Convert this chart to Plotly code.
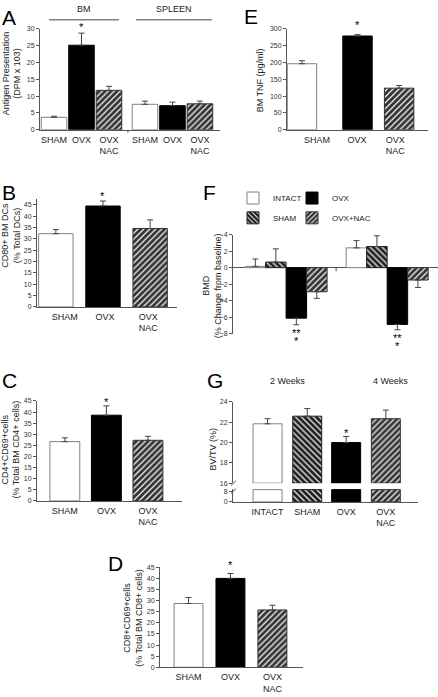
import plotly.graph_objects as go

W, H = 438, 697
FONT = "Liberation Sans, Arial, sans-serif"

# ---------------- data ----------------
A_categories = ["SHAM", "OVX", "OVX<br>NAC"]
A_groups = ["BM", "SPLEEN"]
A_bm = [3.7, 25.1, 11.7]
A_bm_err = [0.3, 3.6, 1.2]
A_spleen = [7.55, 7.15, 7.7]
A_spleen_err = [0.95, 1.05, 0.8]

E_categories = ["SHAM", "OVX", "OVX<br>NAC"]
E_values = [196, 278.5, 123.5]
E_err = [9, 4, 8]

B_categories = ["SHAM", "OVX", "OVX<br>NAC"]
B_values = [32.3, 44.5, 34.6]
B_err = [1.8, 2.2, 3.8]

C_categories = ["SHAM", "OVX", "OVX<br>NAC"]
C_values = [26.7, 38.6, 27.3]
C_err = [1.7, 4.2, 1.8]

D_categories = ["SHAM", "OVX", "OVX<br>NAC"]
D_values = [28.7, 40.0, 25.8]
D_err = [2.7, 2.2, 2.1]

F_periods = ["2 Weeks", "4 Weeks"]
F_intact = [0.15, 2.4]
F_intact_err = [0.9, 0.88]
F_sham = [0.68, 2.56]
F_sham_err = [1.6, 1.3]
F_ovx = [-6.12, -6.88]
F_ovx_err = [0.8, 0.65]
F_nac = [-2.92, -1.5]
F_nac_err = [0.8, 0.9]

G_categories = ["INTACT", "SHAM", "OVX", "OVX<br>NAC"]
G_values = [21.85, 22.6, 20.0, 22.35]
G_err = [0.5, 0.75, 0.6, 0.85]

# ---------------- styles ----------------
AX = "#555555"
TXT = "#222222"


def px(x):
    return x / W


def py(y):
    return 1 - y / H


STYLES = {
    "white": dict(color="white", line=dict(color="#808080", width=1)),
    "black": dict(color="black", line=dict(color="black", width=1)),
    "nac": dict(color="#333333", line=dict(color="#333333", width=1),
                pattern=dict(shape="/", bgcolor="#333333", fgcolor="#f4f4f4",
                             fillmode="replace", size=4.2, solidity=0.3)),
    "sham": dict(color="#1c1c1c", line=dict(color="#222222", width=1),
                 pattern=dict(shape="\\", bgcolor="#1c1c1c", fgcolor="#f4f4f4",
                              fillmode="replace", size=4.2, solidity=0.3)),
}


def err(vals, errs, color="#444444"):
    up = [e if v >= 0 else 0 for v, e in zip(vals, errs)]
    dn = [e if v < 0 else 0 for v, e in zip(vals, errs)]
    return dict(type="data", symmetric=False, array=up, arrayminus=dn,
                color=color, thickness=1, width=3)


fig = go.Figure()


def add_bars(xs, ys, errs, kinds, width, xid, yid, base=None, shown=None):
    """One trace per fill style so each pattern keeps its own colours."""
    for kind in dict.fromkeys(kinds):
        idx = [i for i, k in enumerate(kinds) if k == kind]
        yv = [ys[i] for i in idx]
        kw = {}
        if errs is not None:
            real = [(ys[i] + (base or 0)) for i in idx]
            kw["error_y"] = err(real, [errs[i] for i in idx])
        if base is not None:
            kw["base"] = base
        fig.add_trace(go.Bar(x=[xs[i] for i in idx], y=yv, width=width, xaxis=xid, yaxis=yid,
                             showlegend=False, marker=STYLES[kind], **kw))


layout = dict(
    width=W, height=H, margin=dict(l=0, r=0, t=0, b=0),
    paper_bgcolor="white", plot_bgcolor="rgba(0,0,0,0)",
    font=dict(family=FONT, color=TXT, size=9),
    barmode="overlay", showlegend=True,
)
annotations = []
shapes = []


def add_axes(n, xdom, ydom, xrange, yrange, ytickvals, tickvals=None, ticktext=None,
             xline=True, standoff=1):
    xs = "xaxis" if n == 1 else f"xaxis{n}"
    ys = "yaxis" if n == 1 else f"yaxis{n}"
    yid = "y" if n == 1 else f"y{n}"
    xid = "x" if n == 1 else f"x{n}"
    layout[xs] = dict(
        domain=[px(xdom[0]), px(xdom[1])], range=xrange, anchor=yid,
        showline=xline, linecolor=AX, linewidth=1, showgrid=False, zeroline=False,
        ticks="", tickvals=tickvals if tickvals is not None else [],
        ticktext=ticktext if ticktext is not None else [],
        tickfont=dict(size=9, color=TXT), ticklabelstandoff=standoff, fixedrange=True,
    )
    layout[ys] = dict(
        domain=[py(ydom[1]), py(ydom[0])], range=yrange, anchor=xid,
        showline=True, linecolor=AX, linewidth=1, showgrid=False, zeroline=False,
        ticks="outside", ticklen=3, tickwidth=1, tickcolor=AX,
        tickvals=ytickvals, tickfont=dict(size=7, color="#333333"), fixedrange=True,
    )
    return xid, yid


def ytitle(x, y, text):
    annotations.append(dict(x=px(x), y=py(y), xref="paper", yref="paper", text=text,
                            textangle=-90, showarrow=False, font=dict(size=9, color=TXT),
                            xanchor="center", yanchor="middle"))


def letter(x, y, t):
    annotations.append(dict(x=px(x), y=py(y), xref="paper", yref="paper", text=t,
                            showarrow=False, font=dict(size=21, color="black"),
                            xanchor="center", yanchor="middle"))


def star(xid, yid, x, y, shift, text="*"):
    annotations.append(dict(x=x, y=y, xref=xid, yref=yid, text=text, showarrow=False,
                            font=dict(size=11, color="black"), xanchor="center",
                            yanchor="middle", yshift=shift))


TRIO = ["white", "black", "nac"]

# ---------------- Panel A ----------------
a_gap = 3.31
a_pos = [0, 1, 2] + [a_gap + i for i in range(3)]
xid, yid = add_axes(1, (40, 220), (25, 127), [-0.51, 6.04], [0, 30], list(range(0, 31, 5)),
                    tickvals=a_pos, ticktext=A_categories + A_categories)
add_bars(a_pos, A_bm + A_spleen, A_bm_err + A_spleen_err, TRIO * 2, 0.93, xid, yid)
star(xid, yid, a_pos[1], A_bm[1] + A_bm_err[1], 6)
ytitle(12, 70, "Antigen Presentation<br>(DPM x 103)")
letter(9, 14, "A")
shapes.append(dict(type="line", xref="x", yref="paper", x0=(2 + a_gap) / 2 + 0.035,
                   x1=(2 + a_gap) / 2 + 0.035, y0=py(127), y1=py(130),
                   line=dict(color=AX, width=1)))
for gname, x0, x1 in [(A_groups[0], 49, 119), (A_groups[1], 136, 212)]:
    shapes.append(dict(type="line", xref="paper", yref="paper", x0=px(x0), x1=px(x1),
                       y0=py(16), y1=py(16), line=dict(color="#444444", width=1)))
    annotations.append(dict(x=px((x0 + x1) / 2), y=py(5), xref="paper", yref="paper",
                            text=gname, showarrow=False, font=dict(size=9, color=TXT),
                            xanchor="center", yanchor="middle"))

# ---------------- Panel E ----------------
e_pos = [0, 1, 1.75]
xid, yid = add_axes(2, (287, 428), (25, 127), [-0.27, 2.27], [0, 300], list(range(0, 301, 50)),
                    tickvals=[0.27, 0.99, 1.68], ticktext=E_categories)
add_bars(e_pos, E_values, E_err, TRIO, 0.53, xid, yid)
star(xid, yid, e_pos[1], E_values[1] + E_err[1], 10)
ytitle(260, 77, "BM TNF (pg/ml)")
letter(251, 13, "E")

# ---------------- Panel B ----------------
b_pos = [0, 1, 2]
xid, yid = add_axes(3, (37, 177), (197.2, 306), [-0.40, 2.57], [0, 47.5], list(range(0, 46, 5)),
                    tickvals=[0.19, 1.04, 1.96], ticktext=B_categories)
add_bars(b_pos, B_values, B_err, TRIO, 0.73, xid, yid)
star(xid, yid, b_pos[1], B_values[1] + B_err[1], 5)
ytitle(11, 234, "CD80+ BM DCs<br>(% Total DCs)")
letter(9, 190, "B")

# ---------------- Panel C ----------------
c_pos = [0, 1, 2]
xid, yid = add_axes(5, (37, 182), (401, 502), [-0.67, 2.82], [0, 45], list(range(0, 46, 5)),
                    tickvals=c_pos, ticktext=C_categories)
add_bars(c_pos, C_values, C_err, TRIO, 0.72, xid, yid)
star(xid, yid, c_pos[1], C_values[1] + C_err[1], 4)
ytitle(11, 450, "CD4+CD69+cells<br>(% Total BM CD4+ cells)")
letter(9, 380, "C")

# ---------------- Panel D ----------------
d_pos = [0, 1, 2]
xid, yid = add_axes(8, (160, 303), (569, 670), [-0.68, 2.73], [0, 45], list(range(0, 46, 5)),
                    tickvals=d_pos, ticktext=D_categories)
add_bars(d_pos, D_values, D_err, TRIO, 0.69, xid, yid)
star(xid, yid, d_pos[1], D_values[1] + D_err[1], 9)
ytitle(133, 620, "CD8+CD69+cells<br>(% Total BM CD8+ cells)")
letter(115, 565, "D")

# ---------------- Panel F ----------------
f_group_offset = 4.93
xid, yid = add_axes(4, (233, 438), (233, 333), [-1.09, 8.91], [-8, 4], list(range(-8, 5, 2)),
                    xline=False)
layout["yaxis4"].update(zeroline=True, zerolinecolor=AX, zerolinewidth=1)
f_series = [
    ("INTACT", F_intact, F_intact_err, "white", 0, "legend", 233, 196),
    ("SHAM", F_sham, F_sham_err, "sham", 1, "legend3", 233, 216),
    ("OVX", F_ovx, F_ovx_err, "black", 2, "legend2", 292, 196),
    ("OVX+NAC", F_nac, F_nac_err, "nac", 3, "legend4", 292, 216),
]
for name, vals, errs, kind, k, lg, lx, ly in f_series:
    xs = [k + g * f_group_offset for g in range(len(F_periods))]
    fig.add_trace(go.Bar(x=xs, y=vals, width=1.0, name=name, xaxis=xid, yaxis=yid,
                         legend=lg, marker=STYLES[kind], error_y=err(vals, errs)))
    layout[lg] = dict(x=px(lx), y=py(ly), xanchor="left", yanchor="middle",
                      orientation="h", font=dict(size=8, color=TXT),
                      bgcolor="rgba(0,0,0,0)", itemclick=False)
for g in range(len(F_periods)):
    xo = 2 + g * f_group_offset
    bottom = F_ovx[g] - F_ovx_err[g]
    annotations.append(dict(x=xo, y=bottom, xref=xid, yref=yid, text="**", showarrow=False,
                            font=dict(size=11, color="black"), xanchor="center",
                            yanchor="middle", yshift=-8))
    annotations.append(dict(x=xo, y=bottom, xref=xid, yref=yid, text="*", showarrow=False,
                            font=dict(size=11, color="black"), xanchor="center",
                            yanchor="middle", yshift=-16))
shapes.append(dict(type="line", xref=xid, yref="paper", x0=3.94, x1=3.94,
                   y0=py(266.5), y1=py(270), line=dict(color=AX, width=1)))
ytitle(212, 285, "BMD<br>(% Change from baseline)")
letter(209, 190, "F")

# ---------------- Panel G ----------------
g_pos = [0, 1, 1.98, 2.98]
g_kinds = ["white", "sham", "black", "nac"]
G_BREAK = 9.2
xid, yid = add_axes(6, (233, 418), (490, 503), [-0.87, 3.79], [0, 9.6], [0, 8],
                    tickvals=g_pos, ticktext=G_categories)
add_bars(g_pos, [min(v, G_BREAK) for v in G_values], None, g_kinds, 0.73, xid, yid)
xid2, yid2 = add_axes(7, (233, 418), (402, 484), [-0.87, 3.79], [16, 24], list(range(16, 25, 2)),
                      xline=False)
layout["xaxis7"].update(visible=False, matches="x6")
G_UPPER_BASE = 16
add_bars(g_pos, [v - G_UPPER_BASE for v in G_values], G_err, g_kinds, 0.73, xid2, yid2,
         base=G_UPPER_BASE)
star(xid2, yid2, g_pos[2], G_values[2] + G_err[2], 3)
for lbl, xc in [(F_periods[0], 287), (F_periods[1], 390)]:
    annotations.append(dict(x=px(xc), y=py(381), xref="paper", yref="paper", text=lbl,
                            showarrow=False, font=dict(size=9, color=TXT),
                            xanchor="center", yanchor="middle"))
for yb in (484, 492):
    shapes.append(dict(type="line", xref="paper", yref="paper", x0=px(231), x1=px(236),
                       y0=py(yb + 2.5), y1=py(yb - 2.5), line=dict(color=AX, width=1)))
ytitle(213, 450, "BV/TV (%)")
letter(215, 380, "G")

layout["annotations"] = annotations
layout["shapes"] = shapes
fig.update_layout(**layout)
fig.write_html("out.html", config={"displayModeBar": False},
               post_script="document.body.style.margin='0px';"
                           "document.body.style.overflow='hidden';")
